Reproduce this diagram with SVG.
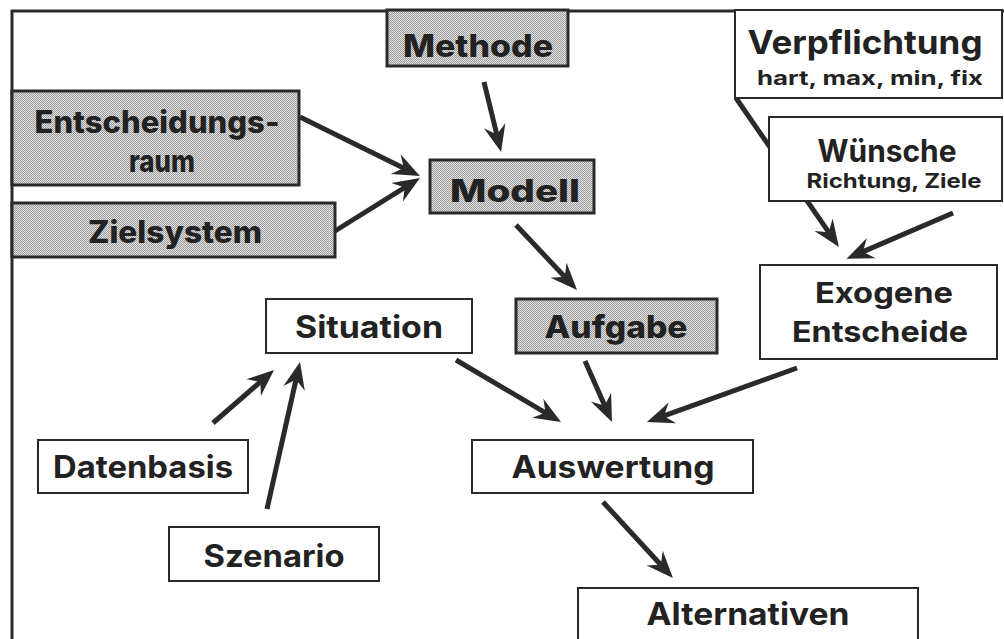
<svg xmlns="http://www.w3.org/2000/svg" width="1004" height="639" viewBox="0 0 1004 639">
<style>
.frame{stroke:#2a2a2a;stroke-width:3;fill:none}
.shaded{fill:url(#stipple);stroke:#2a2a2a;stroke-width:3}
.plain{fill:#ffffff;stroke:#2a2a2a;stroke-width:2}
text{font-family:Inter,Lato,"DejaVu Sans",sans-serif;fill:#222222;text-anchor:middle}
.lb{font-size:31px;font-weight:700}
.ls{font-size:31px;font-weight:800}
.sm{font-size:20px;font-weight:700}
.conn line{stroke:#2a2a2a;stroke-width:5;marker-end:url(#arrow)}
</style>
<defs>
<pattern id="stipple" width="2" height="2" patternUnits="userSpaceOnUse">
<rect width="2" height="2" fill="#e4e4e4"/>
<rect width="1" height="1" fill="#9a9a9a"/>
<rect x="1" y="1" width="1" height="1" fill="#9a9a9a"/>
</pattern>
<marker id="arrow" markerUnits="userSpaceOnUse" markerWidth="40" markerHeight="30" refX="0" refY="0" orient="auto" overflow="visible">
<path d="M15,0 L-12,-11 L-3,0 L-12,11 Z" fill="#2a2a2a"/>
</marker>
</defs>
<rect width="1004" height="639" fill="#ffffff"/>
<g id="frame">
<line class="frame" x1="12" y1="10" x2="12" y2="639"/>
<line class="frame" x1="11" y1="11" x2="1004" y2="11"/>
</g>
<g class="conn" id="connectors">
<line x1="484" y1="82" x2="497.5" y2="137.4"/>
<line x1="300" y1="117" x2="406.5" y2="169.4"/>
<line x1="335" y1="231" x2="407.3" y2="185.9"/>
<line x1="516" y1="225" x2="566.8" y2="279"/>
<line x1="736" y1="98" x2="830.4" y2="234.7"/>
<line x1="953" y1="213" x2="860.2" y2="252.9"/>
<line x1="456" y1="360" x2="548.1" y2="414.4"/>
<line x1="585" y1="361" x2="605.9" y2="408.3"/>
<line x1="797" y1="368" x2="661.1" y2="416.9"/>
<line x1="603" y1="502" x2="662.8" y2="567"/>
<line x1="213" y1="423" x2="262.7" y2="379.8"/>
<line x1="267" y1="509" x2="296.7" y2="376.6"/>
</g>
<g id="methode">
<rect class="shaded" x="387" y="10" width="181" height="56"/>
<text class="ls" x="478" y="57" textLength="150" lengthAdjust="spacingAndGlyphs">Methode</text>
</g>
<g id="entscheidungsraum">
<rect class="shaded" x="12" y="91" width="287" height="94"/>
<text class="ls" x="157" y="133" textLength="245" lengthAdjust="spacingAndGlyphs">Entscheidungs-</text>
<text class="ls" x="162" y="172" textLength="66" lengthAdjust="spacingAndGlyphs">raum</text>
</g>
<g id="zielsystem">
<rect class="shaded" x="12" y="203" width="323" height="54"/>
<text class="ls" x="175" y="243" textLength="174" lengthAdjust="spacingAndGlyphs">Zielsystem</text>
</g>
<g id="modell">
<rect class="shaded" x="430" y="160" width="164" height="53"/>
<text class="ls" x="515" y="202" textLength="130" lengthAdjust="spacingAndGlyphs">Modell</text>
</g>
<g id="verpflichtung">
<rect class="plain" x="735" y="10" width="267" height="88"/>
<text class="lb" x="865" y="54" style="font-size:33px" textLength="235" lengthAdjust="spacingAndGlyphs">Verpflichtung</text>
<text class="sm" x="870" y="85" textLength="226" lengthAdjust="spacingAndGlyphs">hart, max, min, fix</text>
</g>
<g id="wuensche">
<rect class="plain" x="769" y="117" width="233" height="84"/>
<text class="lb" x="887" y="162" textLength="139" lengthAdjust="spacingAndGlyphs">Wünsche</text>
<text class="sm" x="894" y="188" textLength="175" lengthAdjust="spacingAndGlyphs">Richtung, Ziele</text>
</g>
<g id="exogene">
<rect class="plain" x="760" y="265" width="237" height="94"/>
<text class="lb" x="884" y="303" style="font-size:29px" textLength="138" lengthAdjust="spacingAndGlyphs">Exogene</text>
<text class="lb" x="880" y="342" style="font-size:29px" textLength="176" lengthAdjust="spacingAndGlyphs">Entscheide</text>
</g>
<g id="aufgabe">
<rect class="shaded" x="516" y="299" width="201" height="54"/>
<text class="ls" x="616" y="338" textLength="143" lengthAdjust="spacingAndGlyphs">Aufgabe</text>
</g>
<g id="situation">
<rect class="plain" x="266" y="299" width="206" height="54"/>
<text class="lb" x="369" y="338" textLength="148" lengthAdjust="spacingAndGlyphs">Situation</text>
</g>
<g id="datenbasis">
<rect class="plain" x="38" y="440" width="210" height="53"/>
<text class="lb" x="143" y="478" textLength="180" lengthAdjust="spacingAndGlyphs">Datenbasis</text>
</g>
<g id="szenario">
<rect class="plain" x="169" y="527" width="210" height="54"/>
<text class="lb" x="274" y="567" textLength="141" lengthAdjust="spacingAndGlyphs">Szenario</text>
</g>
<g id="auswertung">
<rect class="plain" x="472" y="440" width="281" height="53"/>
<text class="lb" x="613" y="478" textLength="203" lengthAdjust="spacingAndGlyphs">Auswertung</text>
</g>
<g id="alternativen">
<rect class="plain" x="578" y="588" width="340" height="60"/>
<text class="lb" x="748" y="625" textLength="203" lengthAdjust="spacingAndGlyphs">Alternativen</text>
</g>
</svg>
